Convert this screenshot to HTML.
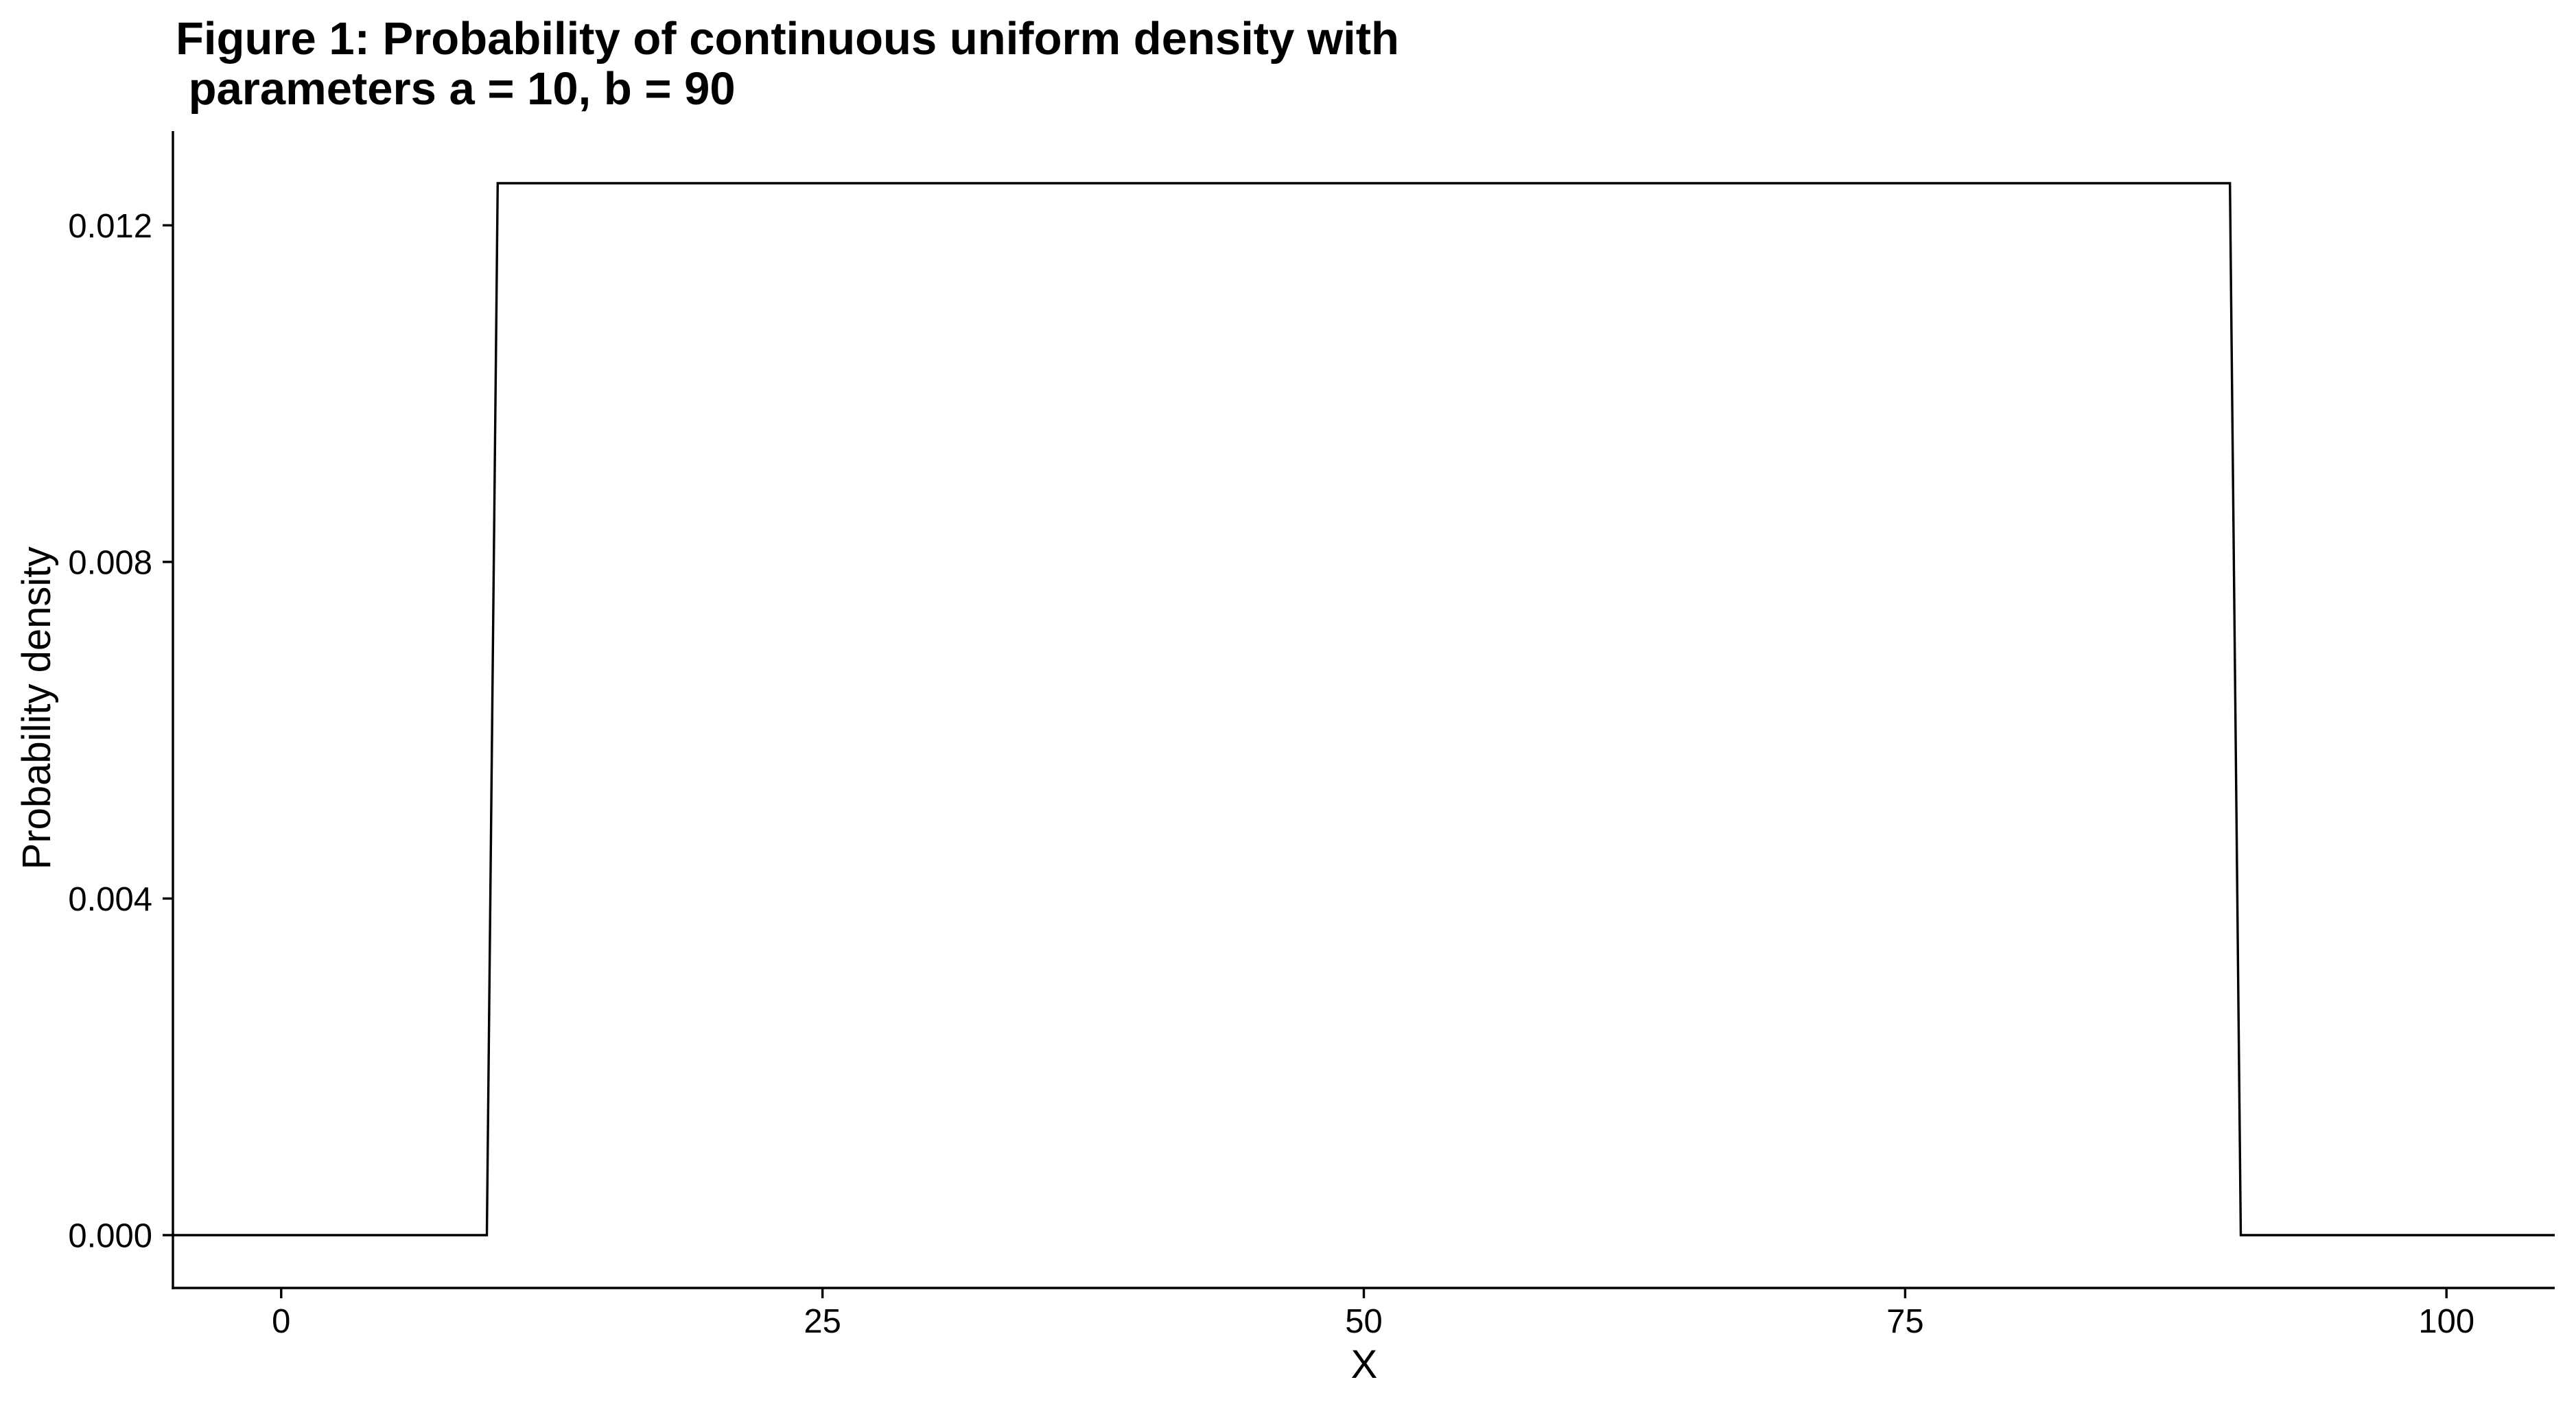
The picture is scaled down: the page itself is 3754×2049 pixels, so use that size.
<!DOCTYPE html>
<html><head><meta charset="utf-8"><style>
html,body{margin:0;padding:0;background:#fff;}
svg{display:block;font-family:"Liberation Sans",Arial,sans-serif;}
</style></head><body>
<svg id="chart" width="3754" height="2049" viewBox="0 0 3754 2049" xmlns="http://www.w3.org/2000/svg">
<rect width="3754" height="2049" fill="#fff"/>
<text x="256" y="79" font-size="67" font-weight="bold" fill="#000">Figure 1: Probability of continuous uniform density with</text>
<text x="256" y="152" font-size="67" font-weight="bold" fill="#000" xml:space="preserve"> parameters a = 10, b = 90</text>
<g id="plot"></g>
<text x="1988" y="2008" font-size="58" text-anchor="middle" fill="#000">X</text>
<text transform="translate(73,1032) rotate(-90)" font-size="58" text-anchor="middle" fill="#000">Probability density</text>
</svg>
<script>
const xValues = [-5, 9.5, 10, 90, 90.5, 105];
const densityValues = [0, 0, 0.0125, 0.0125, 0, 0];
const xTicks = [0, 25, 50, 75, 100];
const xTickLabels = ["0", "25", "50", "75", "100"];
const yTicks = [0, 0.004, 0.008, 0.012];
const yTickLabels = ["0.000", "0.004", "0.008", "0.012"];

const X0 = 252, X1 = 3723, XMIN = -5, XMAX = 105;
const Y0 = 1877, Y1 = 191, YMIN = -0.000628, YMAX = 0.01312;
function sx(v){ return X0 + (v - XMIN) / (XMAX - XMIN) * (X1 - X0); }
function sy(v){ return Y0 - (v - YMIN) / (YMAX - YMIN) * (Y0 - Y1); }

const NS = "http://www.w3.org/2000/svg";
const g = document.getElementById('plot');
function mk(tag, attrs){ const e = document.createElementNS(NS, tag); for (const k in attrs) e.setAttribute(k, attrs[k]); g.appendChild(e); return e; }

const pts = xValues.map((x, i) => sx(x).toFixed(1) + ',' + sy(densityValues[i]).toFixed(1)).join(' ');
const line = mk('polyline', {points: pts, fill: 'none', stroke: '#000', 'stroke-width': 3.4, 'stroke-linejoin': 'miter'});



const yAxis = mk('line', {x1: X0, y1: Y1, x2: X0, y2: Y0 + 1.7, stroke: '#000', 'stroke-width': 3.4});


const xAxis = mk('line', {x1: X0 - 1.7, y1: Y0, x2: X1, y2: Y0, stroke: '#000', 'stroke-width': 3.4});



xTicks.forEach((t, i) => {
  const x = sx(t);
  const tk = mk('line', {x1: x, y1: Y0, x2: x, y2: Y0 + 15, stroke: '#000', 'stroke-width': 3.4});
  
  
  const lb = mk('text', {x: x, y: 1942, 'font-size': 49, 'text-anchor': 'middle', fill: '#000'});
  lb.textContent = xTickLabels[i];
  
  
});
yTicks.forEach((t, i) => {
  const y = sy(t);
  const tk = mk('line', {x1: X0 - 15, y1: y, x2: X0, y2: y, stroke: '#000', 'stroke-width': 3.4});
  
  
  const lb = mk('text', {x: 222, y: y + 17.5, 'font-size': 49, 'text-anchor': 'end', fill: '#000'});
  lb.textContent = yTickLabels[i];
  
  
});
</script>
</body></html>
